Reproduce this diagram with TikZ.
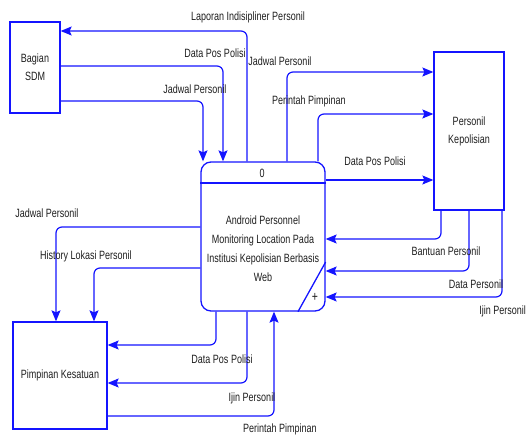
\documentclass[tikz,border=0pt]{standalone}
\usepackage{fontspec}
\setmainfont{Liberation Sans}[FakeStretch=0.75]
\usetikzlibrary{arrows.meta}
\definecolor{dfdblue}{RGB}{20,20,255}
\definecolor{txtgray}{RGB}{30,30,30}
\newcommand\lblfont{\fontsize{12}{13}\selectfont}
\begin{document}
\begin{tikzpicture}[x=1pt,y=-1pt,
  flow/.style={draw=dfdblue, line width=1.2pt, rounded corners=6pt, -{Stealth[length=11pt,width=9pt,inset=2pt]}},
  ent/.style={draw=dfdblue, line width=1.3pt, inner sep=0pt, align=center, font=\lblfont, text=txtgray},
  lbl/.style={font=\lblfont, text=txtgray, inner sep=0pt}]
\useasboundingbox (0,0) rectangle (527,435);

% entities
\node[ent, minimum width=50pt, minimum height=91pt] (sdm) at (35,67.5) {Bagian\\[5pt]SDM};
\node[ent, minimum width=70pt, minimum height=158pt] (pers) at (469,131) {Personil\\[5pt]Kepolisian};
\node[ent, minimum width=94pt, minimum height=107pt] (pimp) at (60,375.5) {Pimpinan Kesatuan};

% process
\node[draw=dfdblue, line width=1.3pt, rounded corners=10pt, inner sep=0pt,
      minimum width=124pt, minimum height=149pt] (proc) at (263,236.5) {};
\draw[dfdblue, line width=1.3pt] (proc.west |- 0,183) -- (proc.east |- 0,183);
\draw[dfdblue, line width=1.3pt] (298,0 |- proc.south) -- (proc.east |- 0,262);
\node[lbl] (pid) at (262,173) {0};
\node[lbl] (plus) at (315,297) {\fontsize{14}{14}\selectfont +};
\node[lbl, align=center, font=\fontsize{12}{19}\selectfont] (ptext) at (263,248.5)
  {Android Personnel\\Monitoring Location Pada\\Institusi Kepolisian Berbasis\\Web};

% flows
\draw[flow] (247,0 |- proc.north) |- (sdm.east |- 0,31);
\draw[flow] (sdm.east |- 0,66) -| (223,0 |- proc.north);
\draw[flow] (sdm.east |- 0,101) -| (203,0 |- proc.north);
\draw[flow] (287,0 |- proc.north) |- (pers.west |- 0,72);
\draw[flow] (318,0 |- proc.north) |- (pers.west |- 0,114);
\draw[flow] (proc.east |- 0,180) -- (pers.west |- 0,180);
\draw[flow] (441,0 |- pers.south) |- (proc.east |- 0,239);
\draw[flow] (469,0 |- pers.south) |- (proc.east |- 0,271);
\draw[flow] (502,0 |- pers.south) |- (proc.east |- 0,297);
\draw[flow] (proc.west |- 0,227) -| (56,0 |- pimp.north);
\draw[flow] (proc.west |- 0,268) -| (94,0 |- pimp.north);
\draw[flow] (216,0 |- proc.south) |- (pimp.east |- 0,345);
\draw[flow] (247,0 |- proc.south) |- (pimp.east |- 0,383);
\draw[flow] (pimp.east |- 0,416) -| (274,0 |- proc.south);

% labels
\node[lbl] (l1) at (248,17) {Laporan Indisipliner Personil};
\node[lbl] (l2) at (215,53) {Data Pos Polisi};
\node[lbl] (l3) at (195,89) {Jadwal Personil};
\node[lbl] (l4) at (280,61) {Jadwal Personil};
\node[lbl] (l5) at (309,101) {Perintah Pimpinan};
\node[lbl] (l6) at (375,161) {Data Pos Polisi};
\node[lbl] (l7) at (446,251) {Bantuan Personil};
\node[lbl] (l8) at (476,284) {Data Personil};
\node[lbl, anchor=east] (l9) at (526,311) {Ijin Personil};
\node[lbl] (l10) at (47,213) {Jadwal Personil};
\node[lbl] (l11) at (86,256) {History Lokasi Personil};
\node[lbl] (l12) at (222,359) {Data Pos Polisi};
\node[lbl] (l13) at (252,398) {Ijin Personil};
\node[lbl] (l14) at (280,429) {Perintah Pimpinan};
\end{tikzpicture}
\end{document}
